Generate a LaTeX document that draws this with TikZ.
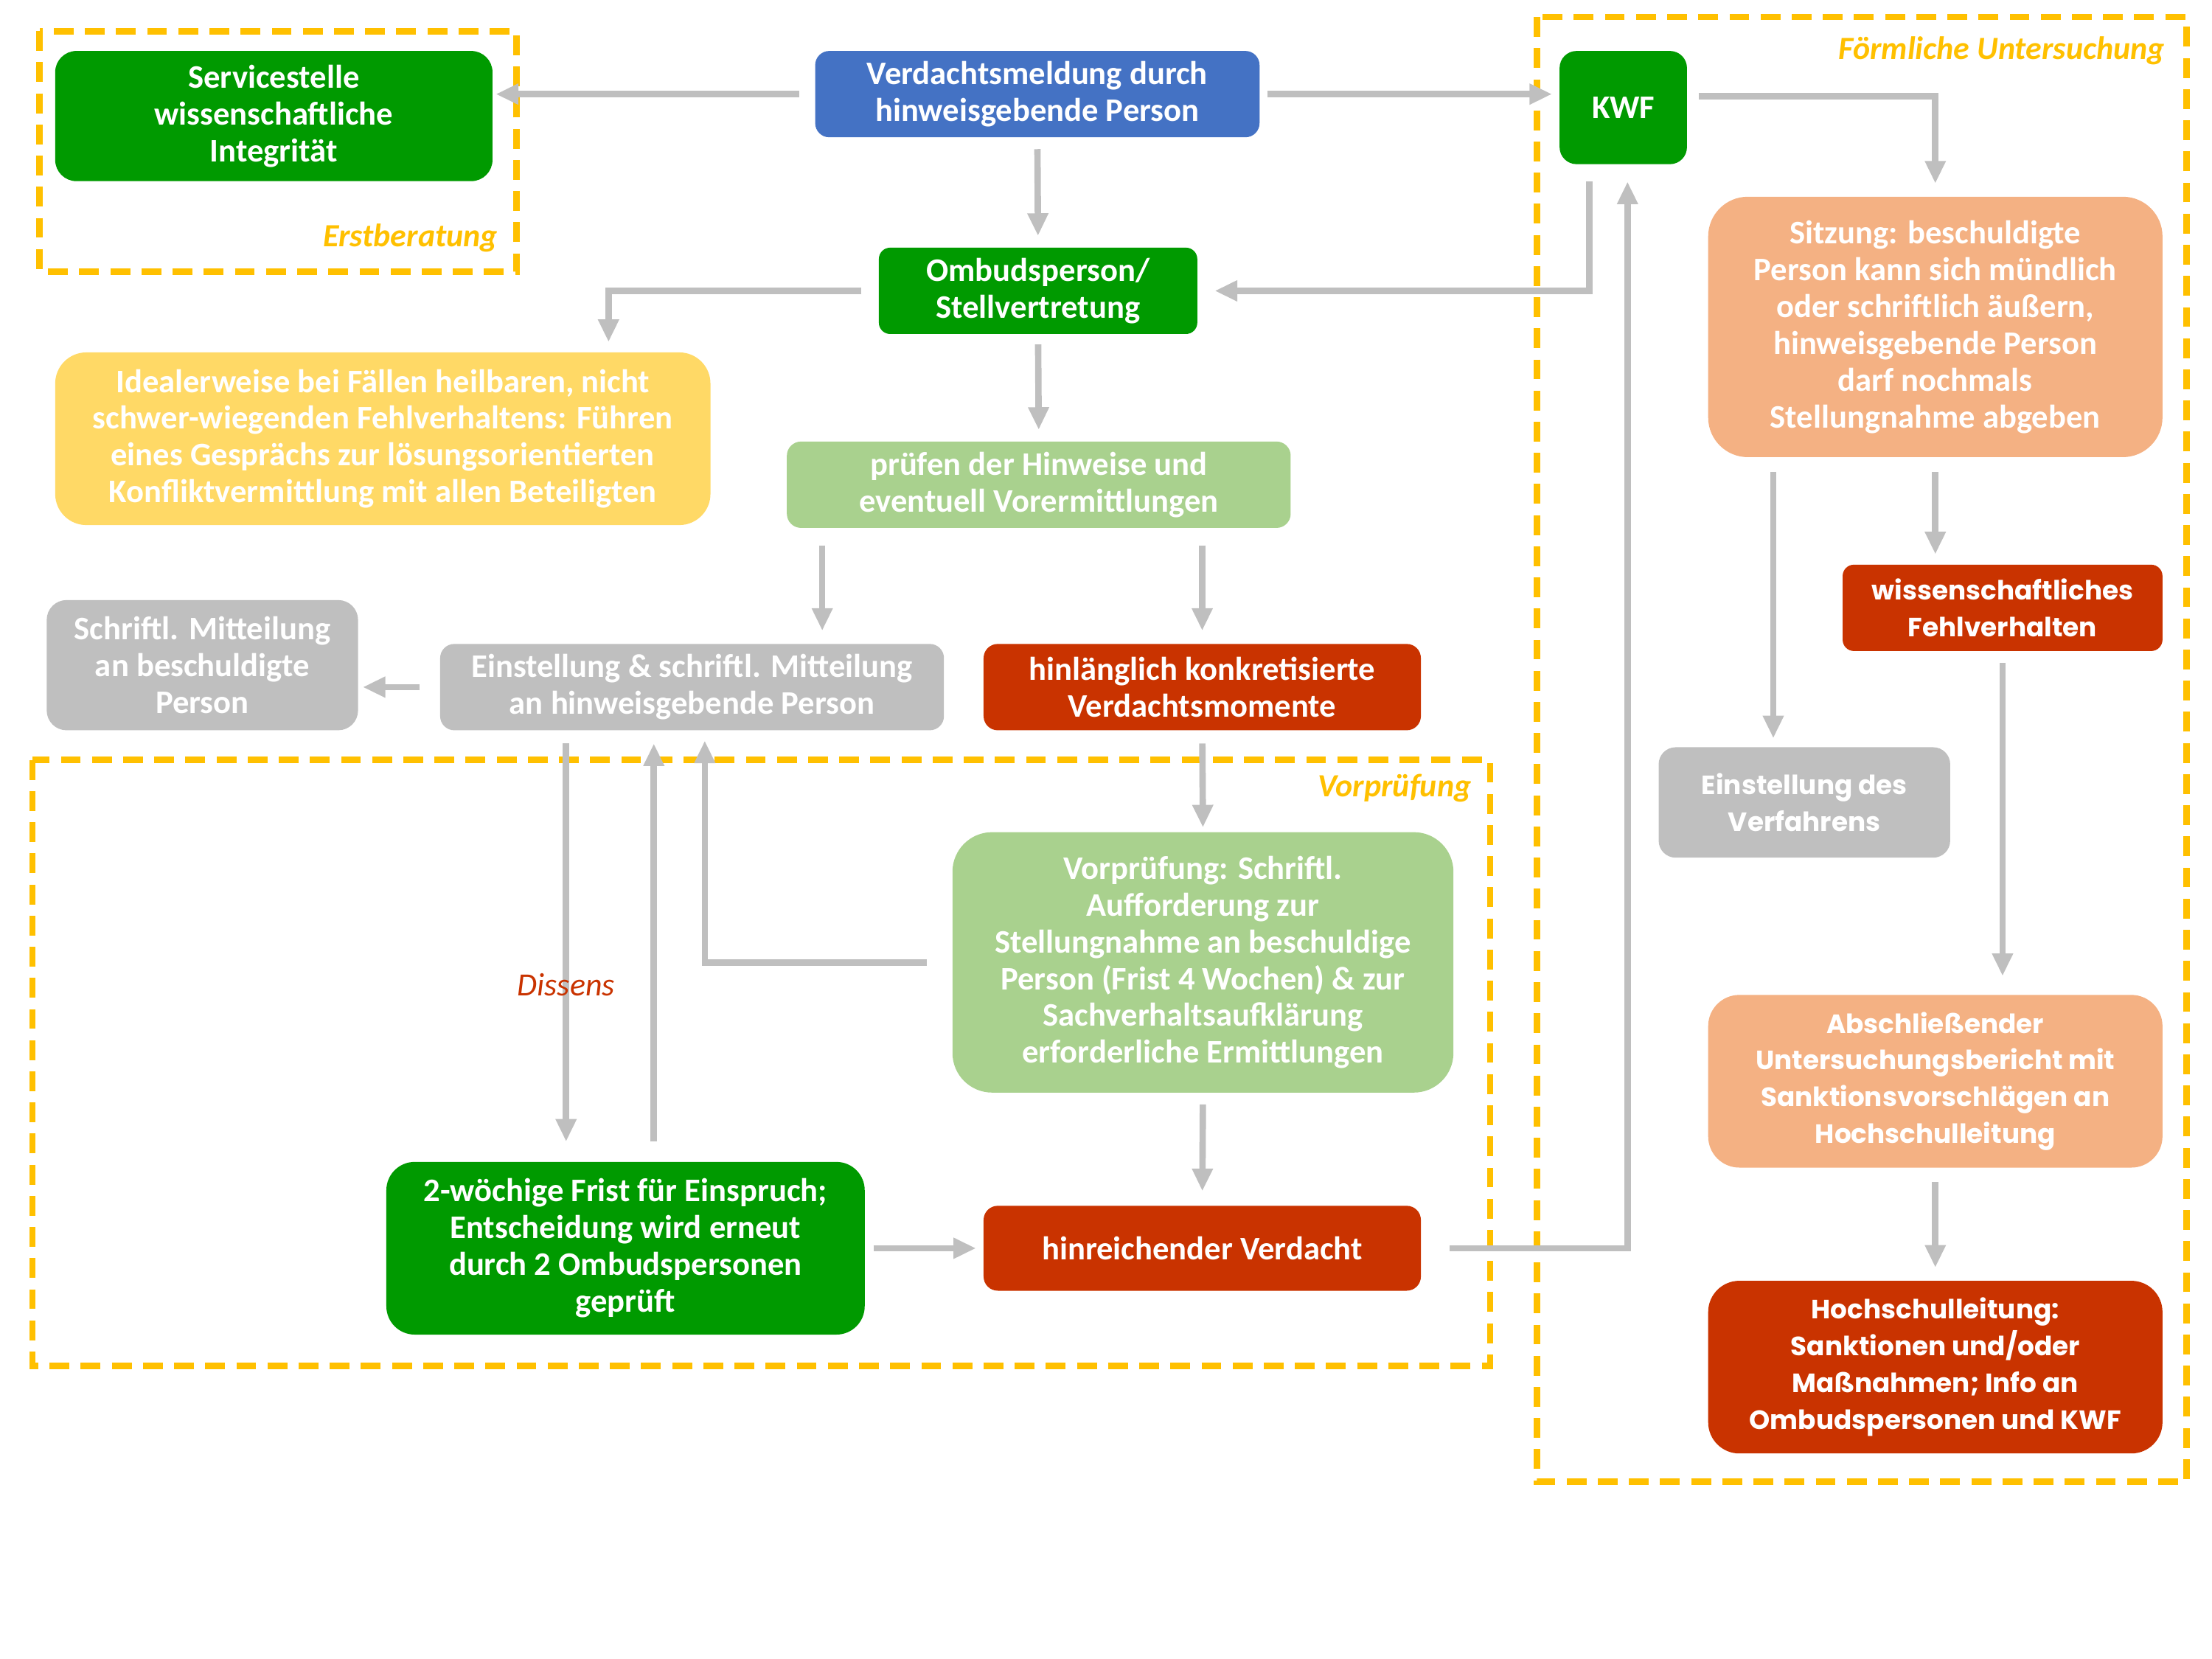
\documentclass[tikz,border=0pt]{standalone}
\usepackage{fontspec}
\setmainfont{Carlito}
\newfontfamily\widefont{Poppins}
\usetikzlibrary{arrows.meta}
\newlength{\px}
\setlength{\px}{0.019194cm}
\definecolor{boxgreen}{HTML}{009A00}
\definecolor{boxblue}{HTML}{4472C4}
\definecolor{boxyellow}{HTML}{FFD966}
\definecolor{boxlight}{HTML}{A9D18E}
\definecolor{boxgray}{HTML}{BFBFBF}
\definecolor{boxred}{HTML}{C93300}
\definecolor{boxsalmon}{HTML}{F4B183}
\definecolor{zonegold}{HTML}{FFC000}
\definecolor{linegray}{HTML}{BFBFBF}

\begin{document}
\begin{tikzpicture}[x=\px, y=-\px,
    box/.style={rounded corners=10\px, inner sep=0pt, align=center, text=white,
        font=\fontsize{12.7}{14.2}\selectfont\bfseries},
    wide/.style={font=\widefont\fontsize{10.2}{14.2}\selectfont\bfseries},
    arr/.style={draw=linegray, line width=4.5\px, -{Triangle[length=8.7pt,width=7.6pt]}},
    zone/.style={draw=zonegold, line width=4.5\px, dash pattern=on 14\px off 8\px},
    zonelabel/.style={text=zonegold, inner sep=0pt, font=\fontsize{12.5}{14}\selectfont\bfseries\itshape}]
    \useasboundingbox (0,0) rectangle (1563,1172);

    \draw[zone] (28,22) rectangle (365,192);
    \draw[zone] (23,537) rectangle (1053,965);
    \draw[zone] (1086,12) rectangle (1545,1047);
    \node[zonelabel, anchor=east] (erst) at (352,168) {Erstberatung};
    \node[zonelabel, anchor=east] (vorz) at (1040,557) {Vorprüfung};
    \node[zonelabel, anchor=east] (form) at (1530,36) {Förmliche Untersuchung};

    \node[box, fill=boxgreen, rounded corners=15\px, minimum width=309\px, minimum height=92\px] (serv) at (193.5,82) {Servicestelle\\wissenschaftliche\\Integrität};
    \node[box, fill=boxblue, minimum width=314\px, minimum height=61\px] (verd) at (733,66.5) {Verdachtsmeldung durch\\hinweisgebende Person};
    \node[box, fill=boxgreen, rounded corners=8\px, minimum width=225\px, minimum height=61\px] (ombud) at (733.5,205.5) {Ombudsperson/\\Stellvertretung};
    \node[box, fill=boxyellow, rounded corners=22\px, minimum width=463\px, minimum height=122\px] (ideal) at (270.5,310) {Idealerweise bei Fällen heilbaren, nicht\\schwer-wiegenden Fehlverhaltens: Führen\\eines Gesprächs zur lösungsorientierten\\Konfliktvermittlung mit allen Beteiligten};
    \node[box, fill=boxlight, minimum width=356\px, minimum height=61\px] (pruef) at (734,342.5) {prüfen der Hinweise und\\eventuell Vorermittlungen};
    \node[box, fill=boxgray, rounded corners=14\px, minimum width=220\px, minimum height=92\px] (mitbes) at (143,470) {Schriftl. Mitteilung\\an beschuldigte\\Person};
    \node[box, fill=boxgray, minimum width=356\px, minimum height=61\px] (einst) at (489,485.5) {Einstellung \& schriftl. Mitteilung\\an hinweisgebende Person};
    \node[box, fill=boxred, minimum width=309\px, minimum height=61\px] (hinl) at (849.5,485.5) {hinlänglich konkretisierte\\Verdachtsmomente};
    \node[box, fill=boxlight, rounded corners=28\px, minimum width=354\px, minimum height=184\px] (vorpr) at (850,680) {Vorprüfung: Schriftl.\\Aufforderung zur\\Stellungnahme an beschuldige\\Person (Frist 4 Wochen) \& zur\\Sachverhaltsaufklärung\\erforderliche Ermittlungen};
    \node[box, fill=boxgreen, rounded corners=20\px, minimum width=338\px, minimum height=122\px] (frist) at (442,882) {2-wöchige Frist für Einspruch;\\Entscheidung wird erneut\\durch 2 Ombudspersonen\\geprüft};
    \node[box, fill=boxred, minimum width=309\px, minimum height=60\px] (hinr) at (849.5,882) {hinreichender Verdacht};
    \node[box, fill=boxgreen, rounded corners=12\px, minimum width=90\px, minimum height=80\px] (kwf) at (1147,76) {KWF};
    \node[box, fill=boxsalmon, rounded corners=28\px, minimum width=321\px, minimum height=184\px] (sitz) at (1367.5,231) {Sitzung: beschuldigte\\Person kann sich mündlich\\oder schriftlich äußern,\\hinweisgebende Person\\darf nochmals\\Stellungnahme abgeben};
    \node[box, wide, fill=boxred, rounded corners=8\px, minimum width=226\px, minimum height=61\px] (wfv) at (1415,429.5) {wissenschaftliches\\Fehlverhalten};
    \node[box, wide, fill=boxgray, rounded corners=12\px, minimum width=206\px, minimum height=78\px] (einv) at (1275,567) {Einstellung des\\Verfahrens};
    \node[box, wide, fill=boxsalmon, rounded corners=22\px, minimum width=321\px, minimum height=122\px] (absch) at (1367.5,764) {Abschließender\\Untersuchungsbericht mit\\Sanktionsvorschlägen an\\Hochschulleitung};
    \node[box, wide, fill=boxred, rounded corners=22\px, minimum width=321\px, minimum height=122\px] (hsl) at (1367.5,966) {Hochschulleitung:\\Sanktionen und/oder\\Maßnahmen; Info an\\Ombudspersonen und KWF};

    \coordinate (kwfdown) at ([xshift=-24\px]kwf.south);
    \coordinate (kwfup) at ([xshift=3\px]kwf.south);
    \coordinate (kwfout) at ([yshift=8\px]kwf.east);
    \coordinate (idealin) at ([xshift=159.5\px]ideal.north);
    \coordinate (pruefout) at ([xshift=-153\px]pruef.south);
    \coordinate (dissout) at ([xshift=-89\px]einst.south);
    \coordinate (einstin) at ([xshift=9\px]einst.south);
    \coordinate (fristout) at ([xshift=20\px]frist.north);
    \coordinate (sitzout) at ([xshift=-114.5\px]sitz.south);

    \draw[arr, shorten <=11\px, shorten >=2\px] (verd.west) -- (serv.east |- verd.west);
    \draw[arr, shorten <=5\px, shorten >=5\px] (verd.east) -- (kwf.west |- verd.east);
    \draw[arr, shorten <=8\px, shorten >=8\px] (verd.south) -- (ombud.north);
    \draw[arr, shorten <=12\px, shorten >=7\px] (ombud.west) -| (idealin);
    \draw[arr, shorten <=12\px, shorten >=12\px] (kwfdown) |- (ombud.east);
    \draw[arr, shorten <=7\px, shorten >=8\px] (ombud.south) -- (pruef.north);
    \draw[arr, shorten <=12\px, shorten >=9\px] (pruefout) -- (pruefout |- einst.north);
    \draw[arr, shorten <=12\px, shorten >=9\px] (hinl.north |- pruef.south) -- (hinl.north);
    \draw[arr, shorten <=14\px, shorten >=3\px] (einst.west) -- (einst.west -| mitbes.east);
    \draw[arr, shorten <=9\px, shorten >=3\px] (hinl.south) -- (vorpr.north);
    \draw[arr, shorten <=18\px, shorten >=7\px] (vorpr.west) -| (einstin);
    \draw[arr, shorten <=9\px, shorten >=14\px] (dissout) -- (dissout |- frist.north)
        node[pos=0.59, inner sep=0pt, text=boxred, font=\fontsize{12.5}{14}\selectfont\itshape] (diss) {Dissens};
    \draw[arr, shorten <=14\px, shorten >=9\px] (fristout) -- (fristout |- einst.south);
    \draw[arr, shorten <=6\px, shorten >=5\px] (frist.east) -- (hinr.west);
    \draw[arr, shorten <=8\px, shorten >=10\px] (vorpr.south) -- (hinr.north);
    \draw[arr, shorten <=20\px, shorten >=12\px] (hinr.east) -| (kwfup);
    \draw[arr, shorten <=8\px, shorten >=9\px] (kwfout) -| (sitz.north);
    \draw[arr, shorten <=10\px, shorten >=6\px] (sitzout) -- (sitzout |- einv.north);
    \draw[arr, shorten <=10\px, shorten >=7\px] (sitz.south) -- (sitz.south |- wfv.north);
    \draw[arr, shorten <=8\px, shorten >=13\px] (wfv.south) -- (wfv.south |- absch.north);
    \draw[arr, shorten <=10\px, shorten >=9\px] (absch.south) -- (hsl.north);
\end{tikzpicture}
\end{document}
